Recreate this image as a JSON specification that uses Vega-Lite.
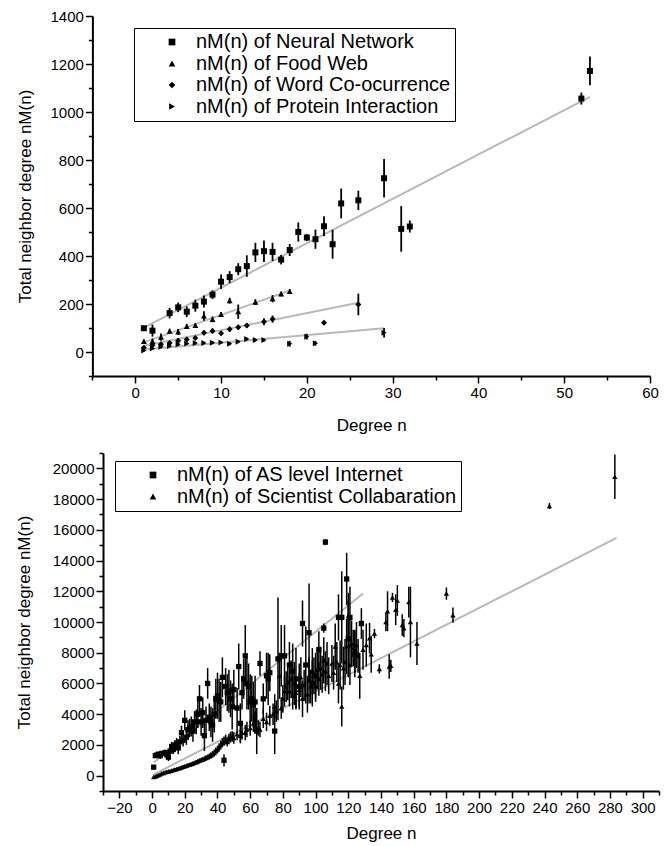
{
  "$schema": "https://vega.github.io/schema/vega-lite/v6.json",
  "background": "white",
  "padding": {"left": 15, "top": 9, "right": 2, "bottom": 2},
  "config": {
    "view": {"stroke": null},
    "font": "Liberation Sans",
    "axis": {"domainColor": "black", "domainWidth": 2, "tickColor": "black", "tickWidth": 1.5, "tickSize": 7, "labelColor": "black", "labelFont": "Liberation Sans", "labelFontSize": 15, "titleFont": "Liberation Sans", "titleFontSize": 17, "titleFontWeight": "normal", "titleColor": "black", "grid": false, "labelPadding": 2, "labelFlush": false, "labelOverlap": false}
  },
  "datasets": {
    "top": [
      {"s":"N","x":1,"y":99,"e":8},{"s":"N","x":2,"y":89,"e":25},{"s":"N","x":4,"y":162,"e":22},{"s":"N","x":5,"y":186,"e":20},{"s":"N","x":6,"y":168,"e":22},{"s":"N","x":7,"y":193,"e":25},{"s":"N","x":8,"y":210,"e":25},{"s":"N","x":9,"y":239,"e":18},{"s":"N","x":10,"y":293,"e":30},{"s":"N","x":11,"y":312,"e":25},{"s":"N","x":12,"y":345,"e":25},{"s":"N","x":13,"y":358,"e":45},{"s":"N","x":14,"y":415,"e":40},{"s":"N","x":15,"y":420,"e":45},{"s":"N","x":16,"y":417,"e":38},{"s":"N","x":17,"y":385,"e":20},{"s":"N","x":18,"y":425,"e":25},{"s":"N","x":19,"y":500,"e":40},{"s":"N","x":20,"y":477,"e":15},{"s":"N","x":21,"y":470,"e":40},{"s":"N","x":22,"y":524,"e":42},{"s":"N","x":23,"y":449,"e":60},{"s":"N","x":24,"y":619,"e":62},{"s":"N","x":26,"y":632,"e":40},{"s":"N","x":29,"y":724,"e":80},{"s":"N","x":31,"y":513,"e":95},{"s":"N","x":32,"y":523,"e":25},{"s":"N","x":52,"y":1056,"e":25},{"s":"N","x":53,"y":1171,"e":60},
      {"s":"F","x":1,"y":44,"e":8},{"s":"F","x":2,"y":44,"e":12},{"s":"F","x":3,"y":62,"e":15},{"s":"F","x":4,"y":87,"e":10},{"s":"F","x":5,"y":84,"e":12},{"s":"F","x":6,"y":107,"e":10},{"s":"F","x":7,"y":111,"e":10},{"s":"F","x":8,"y":150,"e":20},{"s":"F","x":9,"y":136,"e":12},{"s":"F","x":10,"y":157,"e":10},{"s":"F","x":11,"y":214,"e":12},{"s":"F","x":12,"y":168,"e":30},{"s":"F","x":14,"y":208,"e":12},{"s":"F","x":16,"y":222,"e":15},{"s":"F","x":17,"y":242,"e":10},{"s":"F","x":18,"y":252,"e":10},
      {"s":"W","x":1,"y":18,"e":6},{"s":"W","x":2,"y":28,"e":8},{"s":"W","x":3,"y":32,"e":8},{"s":"W","x":4,"y":37,"e":8},{"s":"W","x":5,"y":47,"e":10},{"s":"W","x":6,"y":52,"e":8},{"s":"W","x":7,"y":58,"e":8},{"s":"W","x":8,"y":80,"e":10},{"s":"W","x":9,"y":88,"e":10},{"s":"W","x":10,"y":78,"e":8},{"s":"W","x":11,"y":95,"e":10},{"s":"W","x":12,"y":103,"e":10},{"s":"W","x":13,"y":110,"e":10},{"s":"W","x":15,"y":126,"e":15},{"s":"W","x":16,"y":137,"e":15},{"s":"W","x":22,"y":122,"e":8},{"s":"W","x":26,"y":198,"e":45},
      {"s":"P","x":1,"y":6,"e":5},{"s":"P","x":2,"y":15,"e":6},{"s":"P","x":3,"y":22,"e":6},{"s":"P","x":4,"y":25,"e":6},{"s":"P","x":5,"y":32,"e":8},{"s":"P","x":6,"y":35,"e":6},{"s":"P","x":7,"y":37,"e":6},{"s":"P","x":8,"y":38,"e":6},{"s":"P","x":9,"y":39,"e":6},{"s":"P","x":10,"y":40,"e":6},{"s":"P","x":11,"y":34,"e":6},{"s":"P","x":12,"y":43,"e":6},{"s":"P","x":13,"y":54,"e":6},{"s":"P","x":14,"y":50,"e":6},{"s":"P","x":15,"y":50,"e":6},{"s":"P","x":18,"y":34,"e":12},{"s":"P","x":20,"y":64,"e":12},{"s":"P","x":21,"y":36,"e":10},{"s":"P","x":29,"y":80,"e":20}
    ],
    "topFit": [
      {"s":"N","x":1,"y":102},{"s":"N","x":53,"y":1063},
      {"s":"F","x":1,"y":40},{"s":"F","x":18,"y":256},
      {"s":"W","x":1,"y":26},{"s":"W","x":26,"y":205},
      {"s":"P","x":1,"y":10},{"s":"P","x":29,"y":99}
    ],
    "bottom": [
      {"s":"A","x":1,"y":550,"e":150},{"s":"A","x":2,"y":1300,"e":150},{"s":"A","x":3,"y":1350,"e":150},{"s":"A","x":4,"y":1400,"e":150},{"s":"A","x":5,"y":1300,"e":200},{"s":"A","x":6,"y":1450,"e":150},{"s":"A","x":8,"y":1500,"e":200},{"s":"A","x":9,"y":1350,"e":200},{"s":"A","x":10,"y":1200,"e":250},{"s":"A","x":11,"y":1600,"e":250},{"s":"A","x":12,"y":1900,"e":300},{"s":"A","x":13,"y":1700,"e":300},{"s":"A","x":14,"y":2000,"e":300},{"s":"A","x":15,"y":2100,"e":350},{"s":"A","x":16,"y":1800,"e":400},{"s":"A","x":17,"y":2200,"e":400},{"s":"A","x":18,"y":2800,"e":450},{"s":"A","x":19,"y":2300,"e":400},{"s":"A","x":20,"y":3600,"e":650},{"s":"A","x":21,"y":2500,"e":500},{"s":"A","x":22,"y":3000,"e":600},{"s":"A","x":23,"y":3100,"e":600},{"s":"A","x":24,"y":3200,"e":650},{"s":"A","x":25,"y":2900,"e":700},{"s":"A","x":26,"y":3500,"e":700},{"s":"A","x":27,"y":3500,"e":800},{"s":"A","x":28,"y":4000,"e":900},{"s":"A","x":29,"y":5000,"e":900},{"s":"A","x":30,"y":3500,"e":900},{"s":"A","x":31,"y":4100,"e":1000},{"s":"A","x":32,"y":2600,"e":1000},{"s":"A","x":33,"y":3600,"e":900},{"s":"A","x":34,"y":6000,"e":1000},{"s":"A","x":35,"y":3800,"e":900},{"s":"A","x":36,"y":3500,"e":1000},{"s":"A","x":37,"y":3300,"e":1100},{"s":"A","x":38,"y":4000,"e":1200},{"s":"A","x":39,"y":5000,"e":1300},{"s":"A","x":40,"y":5200,"e":1500},{"s":"A","x":41,"y":4900,"e":1400},{"s":"A","x":42,"y":4800,"e":1300},{"s":"A","x":43,"y":6400,"e":1300},{"s":"A","x":44,"y":1000,"e":400},{"s":"A","x":45,"y":5800,"e":1200},{"s":"A","x":46,"y":5400,"e":1200},{"s":"A","x":47,"y":5500,"e":1400},{"s":"A","x":48,"y":5000,"e":1200},{"s":"A","x":49,"y":4500,"e":1500},{"s":"A","x":50,"y":5600,"e":1300},{"s":"A","x":52,"y":4400,"e":1300},{"s":"A","x":53,"y":7100,"e":1500},{"s":"A","x":54,"y":3400,"e":1300},{"s":"A","x":55,"y":5400,"e":1100},{"s":"A","x":56,"y":6300,"e":1300},{"s":"A","x":57,"y":7800,"e":2000},{"s":"A","x":58,"y":6000,"e":1700},{"s":"A","x":59,"y":5800,"e":1500},{"s":"A","x":60,"y":4800,"e":1800},{"s":"A","x":61,"y":5000,"e":1500},{"s":"A","x":62,"y":4600,"e":1500},{"s":"A","x":63,"y":4800,"e":1700},{"s":"A","x":64,"y":2900,"e":1500},{"s":"A","x":66,"y":7300,"e":800},{"s":"A","x":68,"y":5000,"e":1000},{"s":"A","x":70,"y":6500,"e":1500},{"s":"A","x":71,"y":6300,"e":1700},{"s":"A","x":72,"y":6700,"e":1200},{"s":"A","x":75,"y":2900,"e":1500},{"s":"A","x":77,"y":7600,"e":4000},{"s":"A","x":79,"y":7800,"e":2000},{"s":"A","x":81,"y":7800,"e":2000},{"s":"A","x":84,"y":7200,"e":1500},{"s":"A","x":86,"y":6800,"e":1800},{"s":"A","x":88,"y":6300,"e":2000},{"s":"A","x":90,"y":5800,"e":1500},{"s":"A","x":92,"y":9900,"e":1500},{"s":"A","x":94,"y":7200,"e":2500},{"s":"A","x":96,"y":9300,"e":3200},{"s":"A","x":98,"y":6000,"e":1500},{"s":"A","x":100,"y":6500,"e":1500},{"s":"A","x":102,"y":8200,"e":1200},{"s":"A","x":105,"y":9600,"e":300},{"s":"A","x":106,"y":15200,"e":200},{"s":"A","x":114,"y":10300,"e":1500},{"s":"A","x":116,"y":10300,"e":3000},{"s":"A","x":119,"y":12800,"e":1700},{"s":"A","x":120,"y":8900,"e":2500},{"s":"A","x":121,"y":10300,"e":2000},{"s":"A","x":124,"y":7900,"e":1500},{"s":"A","x":128,"y":9900,"e":1000},
      {"s":"S","x":1,"y":-80,"e":50},{"s":"S","x":2,"y":-50,"e":50},{"s":"S","x":3,"y":0,"e":50},{"s":"S","x":4,"y":40,"e":50},{"s":"S","x":5,"y":90,"e":60},{"s":"S","x":6,"y":150,"e":60},{"s":"S","x":7,"y":180,"e":60},{"s":"S","x":8,"y":220,"e":60},{"s":"S","x":9,"y":250,"e":60},{"s":"S","x":10,"y":280,"e":70},{"s":"S","x":11,"y":300,"e":70},{"s":"S","x":12,"y":330,"e":70},{"s":"S","x":13,"y":370,"e":70},{"s":"S","x":14,"y":400,"e":80},{"s":"S","x":15,"y":430,"e":80},{"s":"S","x":16,"y":460,"e":80},{"s":"S","x":17,"y":500,"e":90},{"s":"S","x":18,"y":540,"e":90},{"s":"S","x":19,"y":580,"e":90},{"s":"S","x":20,"y":610,"e":100},{"s":"S","x":21,"y":650,"e":100},{"s":"S","x":22,"y":690,"e":100},{"s":"S","x":23,"y":720,"e":110},{"s":"S","x":24,"y":760,"e":110},{"s":"S","x":25,"y":800,"e":120},{"s":"S","x":26,"y":840,"e":120},{"s":"S","x":27,"y":880,"e":130},{"s":"S","x":28,"y":930,"e":130},{"s":"S","x":29,"y":980,"e":140},{"s":"S","x":30,"y":1020,"e":150},{"s":"S","x":31,"y":1050,"e":150},{"s":"S","x":32,"y":1100,"e":160},{"s":"S","x":33,"y":1150,"e":170},{"s":"S","x":34,"y":1200,"e":170},{"s":"S","x":35,"y":1260,"e":180},{"s":"S","x":36,"y":1320,"e":200},{"s":"S","x":37,"y":1400,"e":200},{"s":"S","x":38,"y":1480,"e":220},{"s":"S","x":39,"y":1600,"e":230},{"s":"S","x":40,"y":1700,"e":250},{"s":"S","x":41,"y":1850,"e":250},{"s":"S","x":42,"y":2000,"e":280},{"s":"S","x":43,"y":2150,"e":300},{"s":"S","x":44,"y":2250,"e":300},{"s":"S","x":45,"y":2350,"e":320},{"s":"S","x":46,"y":2200,"e":300},{"s":"S","x":47,"y":2400,"e":330},{"s":"S","x":48,"y":2500,"e":350},{"s":"S","x":49,"y":2550,"e":350},{"s":"S","x":50,"y":2450,"e":380},{"s":"S","x":52,"y":2700,"e":400},{"s":"S","x":54,"y":2600,"e":400},{"s":"S","x":55,"y":2800,"e":450},{"s":"S","x":57,"y":2800,"e":500},{"s":"S","x":58,"y":3000,"e":500},{"s":"S","x":60,"y":3100,"e":500},{"s":"S","x":62,"y":3400,"e":550},{"s":"S","x":63,"y":3600,"e":600},{"s":"S","x":65,"y":3100,"e":500},{"s":"S","x":66,"y":3000,"e":500},{"s":"S","x":68,"y":3700,"e":600},{"s":"S","x":70,"y":3500,"e":600},{"s":"S","x":72,"y":3900,"e":650},{"s":"S","x":74,"y":4000,"e":700},{"s":"S","x":75,"y":4500,"e":800},{"s":"S","x":76,"y":4200,"e":700},{"s":"S","x":78,"y":6500,"e":1500},{"s":"S","x":79,"y":4400,"e":700},{"s":"S","x":80,"y":5000,"e":900},{"s":"S","x":81,"y":5500,"e":1000},{"s":"S","x":82,"y":5800,"e":1000},{"s":"S","x":83,"y":6100,"e":1200},{"s":"S","x":84,"y":5500,"e":1000},{"s":"S","x":85,"y":6300,"e":1200},{"s":"S","x":86,"y":5200,"e":900},{"s":"S","x":87,"y":6000,"e":1400},{"s":"S","x":88,"y":5400,"e":1000},{"s":"S","x":90,"y":5600,"e":1100},{"s":"S","x":91,"y":6400,"e":1300},{"s":"S","x":92,"y":5000,"e":1200},{"s":"S","x":93,"y":5900,"e":1000},{"s":"S","x":95,"y":5300,"e":1200},{"s":"S","x":96,"y":6200,"e":1500},{"s":"S","x":97,"y":5800,"e":1100},{"s":"S","x":98,"y":6800,"e":1500},{"s":"S","x":99,"y":6500,"e":1200},{"s":"S","x":100,"y":5800,"e":1000},{"s":"S","x":101,"y":6900,"e":1300},{"s":"S","x":102,"y":6300,"e":1100},{"s":"S","x":103,"y":7000,"e":1400},{"s":"S","x":104,"y":6600,"e":1200},{"s":"S","x":105,"y":7500,"e":1500},{"s":"S","x":106,"y":6800,"e":1300},{"s":"S","x":107,"y":7300,"e":1400},{"s":"S","x":108,"y":6500,"e":1200},{"s":"S","x":110,"y":7300,"e":1200},{"s":"S","x":111,"y":6700,"e":1100},{"s":"S","x":112,"y":8400,"e":1500},{"s":"S","x":113,"y":7400,"e":1300},{"s":"S","x":114,"y":6000,"e":1300},{"s":"S","x":115,"y":7200,"e":1600},{"s":"S","x":116,"y":4500,"e":1300},{"s":"S","x":117,"y":7000,"e":1400},{"s":"S","x":118,"y":7400,"e":1500},{"s":"S","x":119,"y":8400,"e":1800},{"s":"S","x":120,"y":10400,"e":1500},{"s":"S","x":121,"y":7200,"e":1300},{"s":"S","x":122,"y":8600,"e":1500},{"s":"S","x":123,"y":8300,"e":1200},{"s":"S","x":124,"y":8100,"e":1400},{"s":"S","x":125,"y":8500,"e":1500},{"s":"S","x":126,"y":7800,"e":1100},{"s":"S","x":127,"y":6500,"e":1500},{"s":"S","x":129,"y":8200,"e":1300},{"s":"S","x":131,"y":8500,"e":1400},{"s":"S","x":133,"y":8950,"e":1000},{"s":"S","x":134,"y":7900,"e":1200},{"s":"S","x":136,"y":9250,"e":300},{"s":"S","x":139,"y":6950,"e":300},{"s":"S","x":143,"y":10000,"e":600},{"s":"S","x":144,"y":10700,"e":1300},{"s":"S","x":145,"y":7100,"e":800},{"s":"S","x":146,"y":7150,"e":400},{"s":"S","x":147,"y":11600,"e":300},{"s":"S","x":149,"y":10800,"e":1000},{"s":"S","x":150,"y":11400,"e":1000},{"s":"S","x":153,"y":9800,"e":700},{"s":"S","x":154,"y":9600,"e":600},{"s":"S","x":157,"y":11300,"e":1000},{"s":"S","x":158,"y":10000,"e":2300},{"s":"S","x":162,"y":8600,"e":1400},{"s":"S","x":180,"y":11850,"e":400},{"s":"S","x":184,"y":10450,"e":500},{"s":"S","x":243,"y":17550,"e":200},{"s":"S","x":283,"y":19450,"e":1450}
    ],
    "bottomFit": [
      {"s":"A","x":1,"y":850},{"s":"A","x":129,"y":11850},
      {"s":"S","x":1,"y":80},{"s":"S","x":284,"y":15480}
    ]
  },
  "resolve": {"scale": {"shape": "independent"}, "legend": {"shape": "independent"}},
  "spacing": 19,
  "vconcat": [
    {
      "width": 547,
      "height": 360,
      "resolve": {"axis": {"x": "independent", "y": "independent"}},
      "layer": [
        {"data": {"name": "topFit"}, "mark": {"type": "line", "color": "#b8b8b8", "strokeWidth": 2},
          "encoding": {
            "x": {"field": "x", "type": "quantitative", "scale": {"domain": [-5, 60], "range": [-10.6, 547], "nice": false, "zero": false},
              "axis": {"orient": "bottom", "values": [-5,5,15,25,35,45,55], "labels": false, "domain": false, "title": null, "tickSize": 4}},
            "y": {"field": "y", "type": "quantitative", "scale": {"domain": [-100, 1400], "nice": false, "zero": false},
              "axis": {"orient": "left", "offset": 10.6, "values": [-100,100,300,500,700,900,1100,1300], "labels": false, "domain": false, "title": null, "tickSize": 4}},
            "detail": {"field": "s", "type": "nominal"}}},
        {"data": {"name": "top"}, "mark": {"type": "errorbar", "color": "black", "thickness": 1.8},
          "encoding": {
            "x": {"field": "x", "type": "quantitative", "scale": {"domain": [-5, 60], "range": [-10.6, 547], "nice": false, "zero": false},
              "axis": {"orient": "bottom", "title": "Degree n", "values": [0,10,20,30,40,50,60], "titlePadding": 17}},
            "y": {"field": "y", "type": "quantitative", "scale": {"domain": [-100, 1400], "nice": false, "zero": false},
              "axis": {"orient": "left", "offset": 10.6, "title": "Total neighbor degree nM(n)", "format": "d", "values": [0,200,400,600,800,1000,1200,1400], "titlePadding": 16}},
            "yError": {"field": "e"}}},
        {"data": {"name": "top"}, "mark": {"type": "point", "filled": true, "color": "black", "size": 36, "opacity": 1},
          "encoding": {
            "x": {"field": "x", "type": "quantitative", "scale": {"domain": [-5, 60], "range": [-10.6, 547], "nice": false, "zero": false}, "axis": null},
            "y": {"field": "y", "type": "quantitative", "scale": {"domain": [-100, 1400], "nice": false, "zero": false}, "axis": null},
            "shape": {"field": "s", "type": "nominal", "scale": {"domain": ["N","F","W","P"], "range": ["square","triangle-up","diamond","triangle-right"]},
            "legend": {"title": null, "orient": "none", "legendX": 31, "legendY": 12, "strokeColor": "black", "padding": 4, "symbolOffset": 24, "labelOffset": 14, "symbolSize": 45, "symbolFillColor": "black", "symbolStrokeColor": "black", "symbolOpacity": 1, "labelFontSize": 20, "labelFont": "Liberation Sans", "labelColor": "black", "rowPadding": 1.5, "labelLimit": 400,
              "labelExpr": "datum.label == 'N' ? 'nM(n) of Neural Network' : datum.label == 'F' ? 'nM(n) of Food Web' : datum.label == 'W' ? 'nM(n) of Word Co-ocurrence' : 'nM(n) of Protein Interaction'"}}}}
      ]
    },
    {
      "width": 556,
      "height": 338,
      "resolve": {"axis": {"x": "independent", "y": "independent"}},
      "layer": [
        {"data": {"name": "bottomFit"}, "mark": {"type": "line", "color": "#b8b8b8", "strokeWidth": 2},
          "encoding": {
            "x": {"field": "x", "type": "quantitative", "scale": {"domain": [-30, 310], "nice": false, "zero": false},
              "axis": {"orient": "bottom", "values": [-30,-10,10,30,50,70,90,110,130,150,170,190,210,230,250,270,290,310], "labels": false, "domain": false, "title": null, "tickSize": 4}},
            "y": {"field": "y", "type": "quantitative", "scale": {"domain": [-1000, 21000], "nice": false, "zero": false},
              "axis": {"orient": "left", "values": [-1000,1000,3000,5000,7000,9000,11000,13000,15000,17000,19000,21000], "labels": false, "domain": false, "title": null, "tickSize": 4}},
            "detail": {"field": "s", "type": "nominal"}}},
        {"data": {"name": "bottom"}, "mark": {"type": "errorbar", "color": "black", "thickness": 1.5},
          "encoding": {
            "x": {"field": "x", "type": "quantitative", "scale": {"domain": [-30, 310], "nice": false, "zero": false},
              "axis": {"orient": "bottom", "title": "Degree n", "values": [-20,0,20,40,60,80,100,120,140,160,180,200,220,240,260,280,300], "titlePadding": 10}},
            "y": {"field": "y", "type": "quantitative", "scale": {"domain": [-1000, 21000], "nice": false, "zero": false},
              "axis": {"orient": "left", "title": "Total neighbor degree nM(n)", "format": "d", "values": [0,2000,4000,6000,8000,10000,12000,14000,16000,18000,20000], "titlePadding": 19}},
            "yError": {"field": "e"}}},
        {"data": {"name": "bottom"}, "mark": {"type": "point", "filled": true, "color": "black", "size": 28, "opacity": 1},
          "encoding": {
            "x": {"field": "x", "type": "quantitative", "scale": {"domain": [-30, 310], "nice": false, "zero": false}, "axis": null},
            "y": {"field": "y", "type": "quantitative", "scale": {"domain": [-1000, 21000], "nice": false, "zero": false}, "axis": null},
            "shape": {"field": "s", "type": "nominal", "scale": {"domain": ["A","S"], "range": ["square","triangle-up"]},
            "legend": {"title": null, "orient": "none", "legendX": 12, "legendY": 8, "strokeColor": "black", "padding": 4, "symbolOffset": 24, "labelOffset": 14, "symbolSize": 45, "symbolFillColor": "black", "symbolStrokeColor": "black", "symbolOpacity": 1, "labelFontSize": 20, "labelFont": "Liberation Sans", "labelColor": "black", "rowPadding": 1.5, "labelLimit": 400,
              "labelExpr": "datum.label == 'A' ? 'nM(n) of AS level Internet' : 'nM(n) of Scientist Collabaration'"}}}}
      ]
    }
  ]
}
